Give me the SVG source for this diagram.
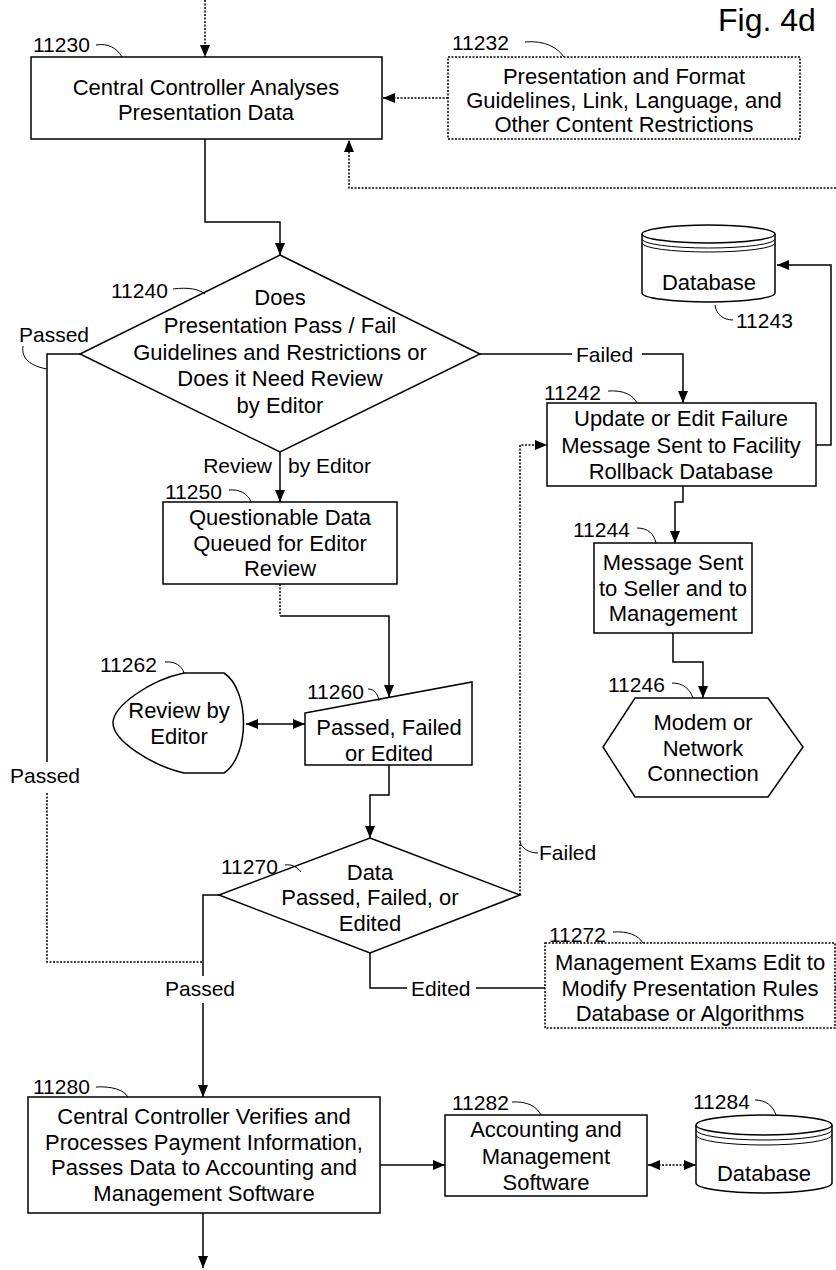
<svg xmlns="http://www.w3.org/2000/svg" width="836" height="1270" viewBox="0 0 836 1270">
<style>
.s{fill:#fff;stroke:#000;stroke-width:1.5}
.d{stroke-dasharray:2 1.5}
.t{font-family:"Liberation Sans",Arial,sans-serif;font-size:22px;text-anchor:middle;fill:#000}
.l{font-family:"Liberation Sans",Arial,sans-serif;font-size:21px;fill:#000}
.ld{fill:none;stroke:#000;stroke-width:1}
.c{fill:none;stroke:#000;stroke-width:1.5}
.cd{fill:none;stroke:#000;stroke-width:1.5;stroke-dasharray:2 1.5}
</style>
<defs>
<marker id="ah" markerWidth="12" markerHeight="10" refX="12" refY="5" orient="auto-start-reverse" markerUnits="userSpaceOnUse"><path d="M0,0 L12,5 L0,10 Z" fill="#000"/></marker>
</defs>
<rect width="836" height="1270" fill="#fff"/>
<text class="l" x="718" y="31" style="font-size:32px">Fig. 4d</text>

<g id="connectors">
<path class="cd" d="M205,0 V57" marker-end="url(#ah)"/>
<path class="cd" d="M448,98 H383" marker-end="url(#ah)"/>
<path class="cd" d="M836,188 H349 V140" marker-end="url(#ah)"/>
<path class="c" d="M205,139 V222 H280 V255" marker-end="url(#ah)"/>
<path class="c" d="M480,354 H572"/>
<path class="c" d="M642,354 H683 V403" marker-end="url(#ah)"/>
<path class="c" d="M816,445 H831 V265 H777" marker-end="url(#ah)"/>
<path class="c" d="M280,452 V502" marker-end="url(#ah)"/>
<path class="c" d="M80,354 H47 V762"/>
<path class="cd" d="M47,793 V962 H203"/>
<path class="cd" d="M280,584 V616"/>
<path class="c" d="M280,616 H389 V697" marker-end="url(#ah)"/>
<path class="c" d="M246,724 H305" marker-start="url(#ah)" marker-end="url(#ah)"/>
<path class="c" d="M389,765 V795 H370 V838" marker-end="url(#ah)"/>
<path class="c" d="M683,486 V502 H675 V543" marker-end="url(#ah)"/>
<path class="c" d="M673,633 V662 H703 V698" marker-end="url(#ah)"/>
<path class="cd" d="M520,895 V445 H547" marker-end="url(#ah)"/>
<path class="c" d="M219,895 H203 V976"/>
<path class="c" d="M203,1003 V1097" marker-end="url(#ah)"/>
<path class="c" d="M370,953 V988 H407"/>
<path class="c" d="M476,988 H545"/>
<path class="c" d="M835,988 H836"/>
<path class="c" d="M380,1165 H445" marker-end="url(#ah)"/>
<path class="cd" d="M648,1165 H696" marker-start="url(#ah)" marker-end="url(#ah)"/>
<path class="c" d="M203,1213 V1268" marker-end="url(#ah)"/>
<text class="l" x="576" y="362">Failed</text>
<text class="l" x="19" y="342">Passed</text>
<path class="ld" d="M23,346 C21,358 30,366 47,369"/>
<text class="l" x="10" y="783">Passed</text>
<text class="l" x="539" y="860">Failed</text>
<path class="ld" d="M520,842 C522,849 530,853 538,853"/>
<text class="l" x="165" y="996">Passed</text>
<text class="l" x="411" y="996">Edited</text>
<text class="l" x="272" y="473" style="text-anchor:end">Review</text>
<text class="l" x="288" y="473">by  Editor</text>
</g>

<g id="n11230">
<rect class="s" x="31" y="57" width="351" height="82"/>
<text class="t" x="206" y="95">Central Controller Analyses</text>
<text class="t" x="206" y="120">Presentation Data</text>
<text class="l" x="33" y="52">11230</text>
<path class="ld" d="M96,45 C108,43 117,48 122,57"/>
</g>

<g id="n11232">
<rect class="s d" x="448" y="57" width="352" height="82"/>
<text class="t" x="624" y="84">Presentation and Format</text>
<text class="t" x="624" y="108">Guidelines, Link, Language, and</text>
<text class="t" x="624" y="132">Other Content Restrictions</text>
<text class="l" x="452" y="50">11232</text>
<path class="ld" d="M525,42 C545,40 558,48 564,57"/>
</g>

<g id="n11240">
<path class="s" d="M280,255 L480,354 L280,452 L80,354 Z"/>
<text class="t" x="280" y="305">Does</text>
<text class="t" x="280" y="333">Presentation Pass / Fail</text>
<text class="t" x="280" y="360">Guidelines and Restrictions or</text>
<text class="t" x="280" y="386">Does it Need Review</text>
<text class="t" x="280" y="413">by Editor</text>
<text class="l" x="111" y="298">11240</text>
<path class="ld" d="M173,289 C188,287 199,289 205,294"/>
</g>

<g id="n11243">
<path class="s" d="M642,234 V293 A66.5,9 0 0 0 775,293 V234"/>
<ellipse class="s" cx="708.5" cy="234" rx="66.5" ry="9"/>
<path class="ld" d="M642,239 A66.5,9 0 0 0 775,239 M642,243 A66.5,9 0 0 0 775,243"/>
<text class="t" x="709" y="290">Database</text>
<text class="l" x="736" y="328">11243</text>
<path class="ld" d="M715,305 C716,314 723,320 733,320"/>
</g>

<g id="n11242">
<rect class="s" x="547" y="403" width="269" height="83"/>
<text class="t" x="681" y="426">Update or Edit Failure</text>
<text class="t" x="681" y="453">Message Sent to Facility</text>
<text class="t" x="681" y="479">Rollback Database</text>
<text class="l" x="544" y="400">11242</text>
<path class="ld" d="M608,391 C624,390 633,395 637,403"/>
</g>

<g id="n11250">
<rect class="s" x="163" y="502" width="234" height="82"/>
<text class="t" x="280" y="525">Questionable Data</text>
<text class="t" x="280" y="551">Queued for Editor</text>
<text class="t" x="280" y="576">Review</text>
<text class="l" x="165" y="499">11250</text>
<path class="ld" d="M229,490 C240,489 248,494 251,502"/>
</g>

<g id="n11244">
<rect class="s" x="594" y="543" width="158" height="90"/>
<text class="t" x="673" y="570">Message Sent</text>
<text class="t" x="673" y="596">to Seller and to</text>
<text class="t" x="673" y="621">Management</text>
<text class="l" x="573" y="537">11244</text>
<path class="ld" d="M637,528 C648,528 654,534 656,543"/>
</g>

<g id="n11262">
<path class="s" d="M184,673 L224,673 C250,690 250,756 224,773 L184,773 C150,765 113,740 113,723 C113,706 150,680 184,673 Z"/>
<text class="t" x="179" y="718">Review by</text>
<text class="t" x="179" y="744">Editor</text>
<text class="l" x="100" y="672">11262</text>
<path class="ld" d="M165,662 C175,661 182,666 184,673"/>
</g>

<g id="n11260">
<path class="s" d="M305,713 L472,682 L472,765 L305,765 Z"/>
<text class="t" x="389" y="735">Passed, Failed</text>
<text class="t" x="389" y="761">or Edited</text>
<text class="l" x="307" y="699">11260</text>
<path class="ld" d="M368,689 C374,689 378,694 379,701"/>
</g>

<g id="n11246">
<path class="s" d="M635,698 L768,698 L803,747 L768,797 L635,797 L603,747 Z"/>
<text class="t" x="703" y="730">Modem or</text>
<text class="t" x="703" y="756">Network</text>
<text class="t" x="703" y="781">Connection</text>
<text class="l" x="608" y="692">11246</text>
<path class="ld" d="M672,683 C683,683 690,689 693,698"/>
</g>

<g id="n11270">
<path class="s" d="M370,838 L520,895 L370,953 L219,895 Z"/>
<text class="t" x="370" y="880">Data</text>
<text class="t" x="370" y="905">Passed, Failed, or</text>
<text class="t" x="370" y="931">Edited</text>
<text class="l" x="221" y="874">11270</text>
<path class="ld" d="M285,865 C292,864 297,867 301,872"/>
</g>

<g id="n11272">
<rect class="s d" x="545" y="943" width="290" height="85"/>
<text class="t" x="690" y="970">Management Exams Edit to</text>
<text class="t" x="690" y="996">Modify Presentation Rules</text>
<text class="t" x="690" y="1021">Database or Algorithms</text>
<text class="l" x="549" y="942">11272</text>
<path class="ld" d="M613,932 C628,931 638,935 643,943"/>
</g>

<g id="n11280">
<rect class="s" x="28" y="1097" width="352" height="116"/>
<text class="t" x="204" y="1124">Central Controller Verifies and</text>
<text class="t" x="204" y="1150">Processes Payment Information,</text>
<text class="t" x="204" y="1175">Passes Data to Accounting and</text>
<text class="t" x="204" y="1201">Management Software</text>
<text class="l" x="33" y="1094">11280</text>
<path class="ld" d="M96,1087 C112,1086 124,1090 128,1097"/>
</g>

<g id="n11282">
<rect class="s" x="445" y="1115" width="202" height="81"/>
<text class="t" x="546" y="1137">Accounting and</text>
<text class="t" x="546" y="1164">Management</text>
<text class="t" x="546" y="1190">Software</text>
<text class="l" x="452" y="1110">11282</text>
<path class="ld" d="M512,1102 C528,1101 537,1107 541,1115"/>
</g>

<g id="n11284">
<path class="s" d="M696,1125 V1183 A68,10 0 0 0 832,1183 V1125"/>
<ellipse class="s" cx="764" cy="1125" rx="68" ry="10"/>
<path class="ld" d="M696,1130 A68,10 0 0 0 832,1130 M696,1135 A68,10 0 0 0 832,1135"/>
<text class="t" x="764" y="1181">Database</text>
<text class="l" x="693" y="1109">11284</text>
<path class="ld" d="M755,1100 C766,1100 773,1106 776,1115"/>
</g>
</svg>
